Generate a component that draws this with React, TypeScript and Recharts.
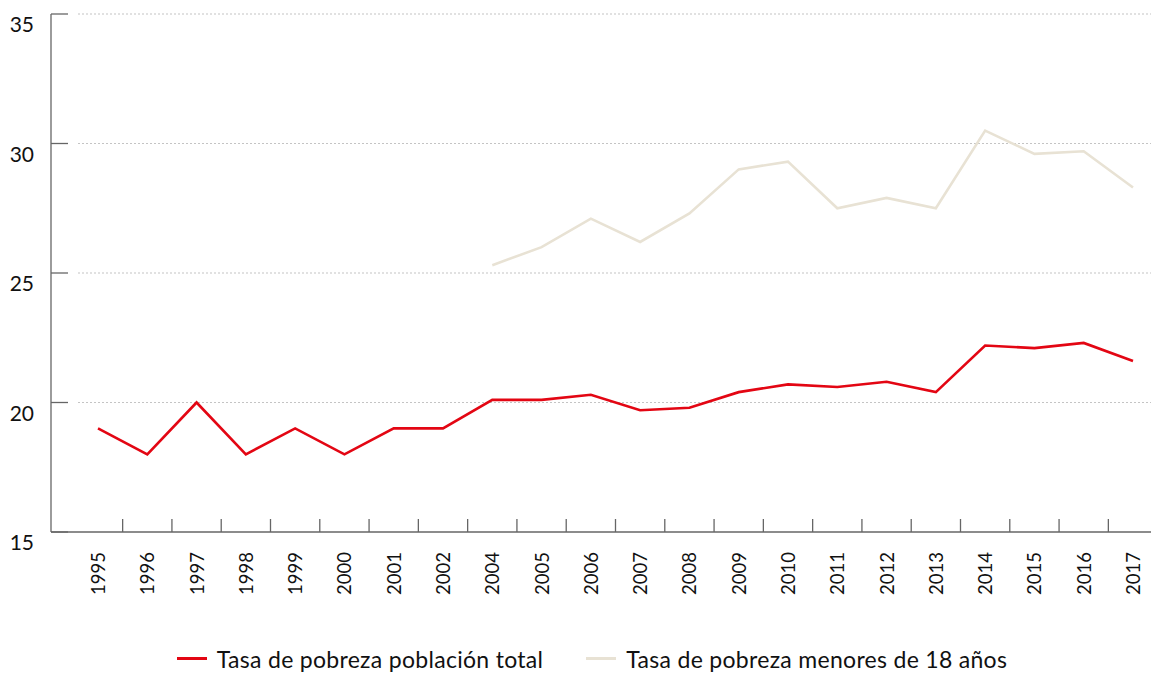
import React from "react";
import { LineChart, Line, XAxis, YAxis, CartesianGrid } from "recharts";

// Años (no hay dato de 2003)
const years = [
  "1995", "1996", "1997", "1998", "1999", "2000", "2001", "2002", "2004", "2005", "2006",
  "2007", "2008", "2009", "2010", "2011", "2012", "2013", "2014", "2015", "2016", "2017",
];

// Tasa de pobreza población total
const totalRate = [
  19, 18, 20, 18, 19, 18, 19, 19, 20.1, 20.1, 20.3,
  19.7, 19.8, 20.4, 20.7, 20.6, 20.8, 20.4, 22.2, 22.1, 22.3, 21.6,
];

// Tasa de pobreza menores de 18 años (serie empieza en 2004)
const childRate = [
  null, null, null, null, null, null, null, null, 25.3, 26.0, 27.1,
  26.2, 27.3, 29.0, 29.3, 27.5, 27.9, 27.5, 30.5, 29.6, 29.7, 28.3,
];

const yTicks = [15, 20, 25, 30, 35];

const data = years.map((year, i) => ({ year, total: totalRate[i], menores: childRate[i] }));

const W = 1151;
const H = 673;
const AXIS_W = 51;
const PAD_L = 47;
const PAD_R = 18;
const FONT = "Lato, 'Open Sans', sans-serif";
const RED = "#e30613";
const BEIGE = "#e8e2d4";
const AXIS = "#666666";

const halfStep = (W - AXIS_W - PAD_L - PAD_R) / (years.length - 1) / 2;

const XTick = (props: any) => {
  const { x, y, payload, index } = props;
  const axisY = y - 20;
  return (
    <g>
      {index > 0 && (
        <line x1={x - halfStep} x2={x - halfStep} y1={axisY - 13} y2={axisY} stroke={AXIS} strokeWidth={1.3} />
      )}
      <text
        x={x}
        y={y}
        transform={`rotate(-90, ${x}, ${y})`}
        textAnchor="end"
        dominantBaseline="central"
        fontFamily={FONT}
        fontSize={18.5}
        fill="#111"
      >
        {payload.value}
      </text>
    </g>
  );
};

const YTick = (props: any) => {
  const { x, y, payload } = props;
  return (
    <g>
      <line x1={x} x2={x + 17} y1={y} y2={y} stroke={AXIS} strokeWidth={1.3} />
      <text x={x - 17} y={y + 18} textAnchor="end" fontFamily={FONT} fontSize={21} fill="#111">
        {payload.value}
      </text>
    </g>
  );
};

const GridLine = (props: any) => {
  const { x1, x2, y1, y2 } = props;
  if (Math.abs(y1 - 532) < 2) return <g />;
  return <line x1={x1 + 27} x2={x2} y1={y1} y2={y2} stroke="#c4c4c4" strokeWidth={1.2} strokeDasharray="2 2" />;
};

const LegendBox = () => {
  const items = [
    { label: "Tasa de pobreza población total", color: RED },
    { label: "Tasa de pobreza menores de 18 años", color: BEIGE },
  ];
  return (
    <div
      style={{
        position: "absolute",
        left: 0,
        top: 632,
        width: W,
        height: 41,
        paddingLeft: 33,
        boxSizing: "border-box",
        display: "flex",
        justifyContent: "center",
        alignItems: "center",
        paddingTop: 12,
        fontFamily: FONT,
        fontSize: 23,
        letterSpacing: 0.3,
        color: "#111",
      }}
    >
      {items.map((it, i) => (
        <div key={it.label} style={{ display: "flex", alignItems: "center", marginLeft: i ? 43 : 0 }}>
          <span style={{ display: "inline-block", width: 30, height: 3, background: it.color, marginRight: 10 }} />
          <span>{it.label}</span>
        </div>
      ))}
    </div>
  );
};

export default function App() {
  return (
    <div style={{ position: "absolute", left: 0, top: 0, width: W, height: H, background: "#fff" }}>
      <LineChart width={W} height={H} data={data} margin={{ top: 14, right: 0, left: 0, bottom: 41 }}>
        <CartesianGrid vertical={false} horizontal={GridLine} />
        <XAxis
          dataKey="year"
          height={100}
          padding={{ left: PAD_L, right: PAD_R }}
          interval={0}
          tickSize={0}
          tickMargin={20}
          axisLine={{ stroke: AXIS, strokeWidth: 1.3 }}
          tickLine={false}
          tick={<XTick />}
        />
        <YAxis
          width={AXIS_W}
          domain={[15, 35]}
          ticks={yTicks}
          interval={0}
          tickSize={0}
          tickMargin={0}
          axisLine={{ stroke: AXIS, strokeWidth: 1.3 }}
          tickLine={false}
          tick={<YTick />}
        />
        <Line
          dataKey="total"
          name="Tasa de pobreza población total"
          stroke={RED}
          strokeWidth={2.6}
          dot={false}
          isAnimationActive={false}
        />
        <Line
          dataKey="menores"
          name="Tasa de pobreza menores de 18 años"
          stroke={BEIGE}
          strokeWidth={2.6}
          dot={false}
          isAnimationActive={false}
        />
      </LineChart>
      <LegendBox />
    </div>
  );
}
